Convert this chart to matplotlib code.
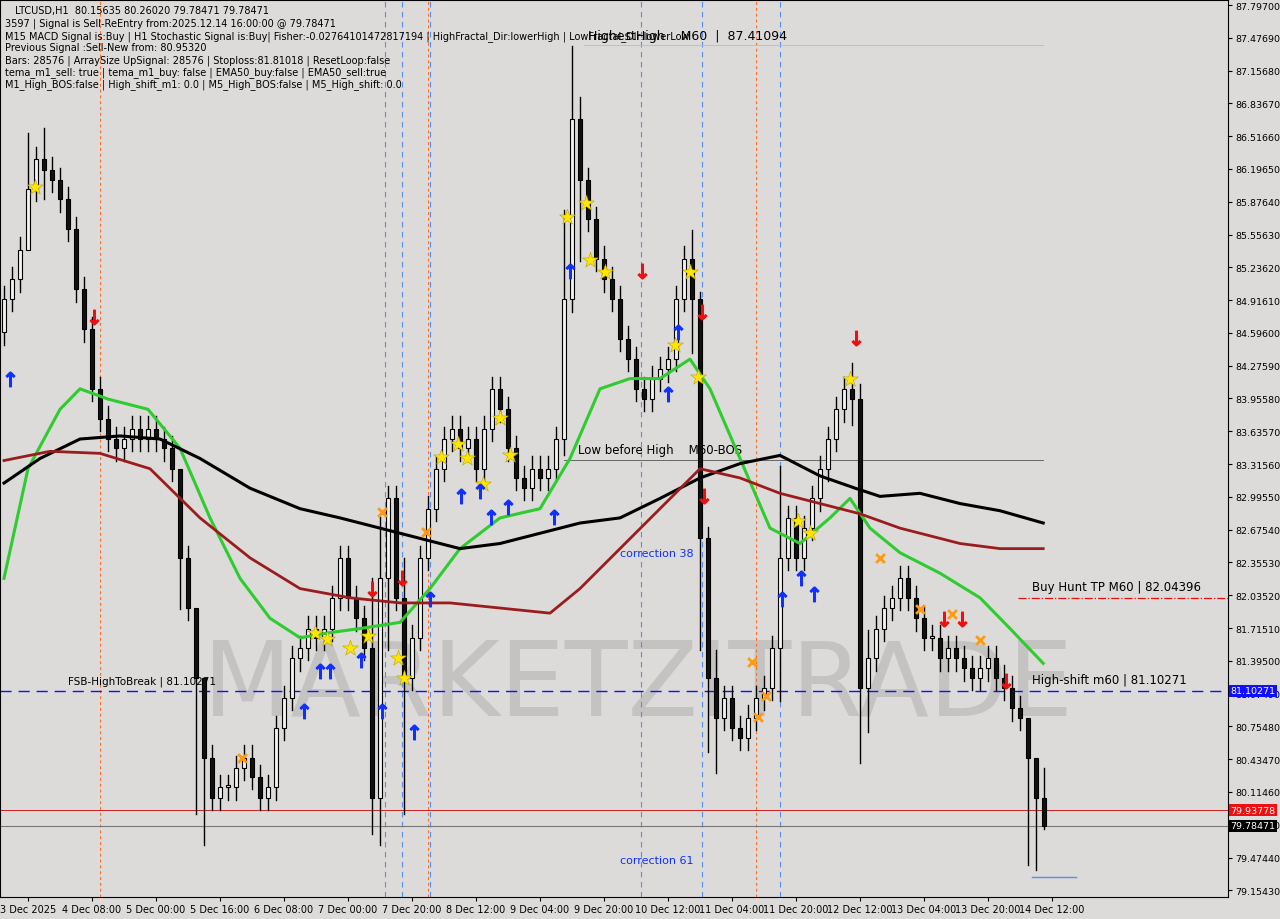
import numpy as np
import matplotlib
matplotlib.use("Agg")
import matplotlib.pyplot as plt

# closes, one candle per slot
closes = [84.93,85.12,85.41,86.00,86.29,86.19,86.09,85.90,85.61,85.02,84.63,84.05,83.76,83.56,83.47,83.56,
          83.66,83.56,83.66,83.56,83.47,83.27,82.40,81.91,81.23,80.45,80.06,80.16,80.16,80.35,80.45,80.26,
          80.06,80.16,80.74,81.03,81.42,81.52,81.71,81.62,81.71,82.01,82.40,82.01,81.81,81.52,80.06,82.20,
          82.98,82.01,81.23,81.62,82.40,82.88,83.27,83.56,83.66,83.47,83.56,83.27,83.66,84.05,83.85,83.47,
          83.18,83.08,83.27,83.18,83.27,83.56,84.93,86.68,86.09,85.71,85.32,85.12,84.93,84.54,84.34,84.05,
          83.95,84.15,84.24,84.34,84.93,85.32,84.93,82.59,81.23,80.84,81.03,80.74,80.64,80.84,81.03,81.13,
          81.52,82.40,82.79,82.40,82.69,82.98,83.27,83.56,83.85,84.05,83.95,81.13,81.42,81.71,81.91,82.01,
          82.20,82.01,81.81,81.62,81.62,81.42,81.52,81.42,81.32,81.23,81.32,81.42,81.23,81.13,80.93,80.84,
          80.45,80.06,79.78]
first_open = 84.60
# long wicks: slot -> (high, low)
wicks = {3: (86.55, 85.60), 5: (86.60, 85.90), 22: (83.10, 81.90), 24: (81.80, 79.90), 25: (80.90, 79.60),
         46: (82.20, 79.70), 47: (82.80, 79.60), 48: (83.10, 81.50), 50: (82.40, 79.90), 70: (85.80, 83.40),
         71: (87.40, 84.80), 72: (86.90, 85.30), 86: (85.60, 84.40), 87: (85.00, 81.50), 88: (82.70, 80.50),
         89: (81.50, 80.30), 97: (83.30, 81.00), 106: (84.30, 83.70), 107: (84.10, 80.40), 108: (81.70, 80.70),
         128: (80.50, 79.40), 129: (80.40, 79.35), 130: (80.35, 79.75)}

green_x = [0,3,7,9.5,13,18,22,25.75,29.5,33.25,37,40.75,44.5,49.5,53.25,57,62,67,70.75,74.5,78.25,82,85.75,88.25,92,95.75,99.5,103.25,105.75,108.25,112,117,122,125.75,129.9]
green_y = [82.20,83.27,83.85,84.05,83.95,83.85,83.47,82.79,82.20,81.81,81.62,81.67,81.71,81.77,82.10,82.49,82.79,82.88,83.37,84.05,84.15,84.15,84.34,84.05,83.37,82.69,82.54,82.79,82.98,82.69,82.45,82.25,82.01,81.71,81.37]
black_x = [0,4.5,9.5,14.5,19.5,24.5,30.75,37,42,47,52,57,62,67,72,77,82,87,92,97,102,106.4,109.5,114.5,119.5,124.5,129.9]
black_y = [83.13,83.37,83.56,83.59,83.56,83.37,83.08,82.88,82.79,82.69,82.59,82.49,82.54,82.64,82.74,82.79,82.98,83.18,83.32,83.40,83.20,83.08,83.00,83.03,82.93,82.86,82.74]
brown_x = [0,5.75,12,18.25,24.5,30.75,37,43.25,49.5,55.75,62,68.25,72,77,82,87,92,97,102,107,112,119.5,124.5,129.9]
brown_y = [83.35,83.44,83.42,83.27,82.79,82.40,82.10,82.01,81.96,81.96,81.91,81.86,82.10,82.49,82.88,83.27,83.18,83.03,82.93,82.83,82.69,82.54,82.49,82.49]

stars_x = [3.9,38.9,40.4,43.25,45.5,49.25,50,54.6,56.75,57.9,59.9,62,63.25,70.4,72.75,73.25,75.1,83.9,85.75,86.75,99.25,100.75,105.75]
stars_y = [86.02,81.67,81.61,81.52,81.64,81.42,81.23,83.38,83.51,83.37,83.12,83.77,83.40,85.73,85.86,85.31,85.19,84.48,85.19,84.17,82.76,82.64,84.15]
up_x = [0.75,37.5,39.5,40.75,44.6,47.25,51.25,53.25,57.1,59.5,60.9,63,68.75,70.75,83,84.25,97.25,99.6,101.25]
up_y = [84.15,80.90,81.30,81.30,81.40,80.90,80.70,82.00,83.00,83.05,82.80,82.90,82.80,85.20,84.00,84.60,82.00,82.20,82.05]
dn_x = [11.25,46,49.75,79.75,87.25,87.5,106.5,117.5,119.75,125.25]
dn_y = [84.75,82.10,82.20,85.20,84.80,83.00,84.55,81.80,81.80,81.20]
ox_x = [29.75,47.25,52.75,93.5,95.25,94.25,109.5,114.5,118.5,122]
ox_y = [80.45,82.85,82.65,81.38,81.05,80.85,82.40,81.90,81.85,81.60]

price_ticks = [87.79700 - 0.32010 * k for k in range(28)]
date_labels = ['3 Dec 2025','4 Dec 08:00','5 Dec 00:00','5 Dec 16:00','6 Dec 08:00','7 Dec 00:00','7 Dec 20:00',
               '8 Dec 12:00','9 Dec 04:00','9 Dec 20:00','10 Dec 12:00','11 Dec 04:00','11 Dec 20:00',
               '12 Dec 12:00','13 Dec 04:00','13 Dec 20:00','14 Dec 12:00']

info = ["LTCUSD,H1  80.15635 80.26020 79.78471 79.78471",
        "3597 | Signal is Sell-ReEntry from:2025.12.14 16:00:00 @ 79.78471",
        "M15 MACD Signal is:Buy | H1 Stochastic Signal is:Buy| Fisher:-0.02764101472817194 | HighFractal_Dir:lowerHigh | LowFractal_Dir:lowerLow",
        "Previous Signal :Sell-New from: 80.95320",
        "Bars: 28576 | ArraySize UpSignal: 28576 | Stoploss:81.81018 | ResetLoop:false",
        "tema_m1_sell: true | tema_m1_buy: false | EMA50_buy:false | EMA50_sell:true",
        "M1_High_BOS:false | High_shift_m1: 0.0 | M5_High_BOS:false | M5_High_shift: 0.0"]

fig = plt.figure(figsize=(12.8, 9.2), dpi=100)
fig.patch.set_facecolor('#dcdbd9')
ax = fig.add_axes([0.0, 22/920, 1228/1280, 897/920])
ax.set_facecolor('#dcdbd9')
ax.set_xlim(-0.5, 153)
ax.set_ylim(79.089, 87.846)

# watermark
ax.text(0.52, 0.235, 'MARKETZITRADE', transform=ax.transAxes, fontsize=74, color='#c4c3c1',
        ha='center', va='center', zorder=0)

# vertical dashed lines
for vx in [47.6, 49.75, 53.25, 79.6, 87.25, 97]:
    ax.axvline(vx, color='#5b8ee8', ls=(0, (5, 4)), lw=0.8, zorder=1)
for vx in [12, 53, 94]:
    ax.axvline(vx, color='#ff6a1a', ls=(0, (3, 3)), lw=0.7, zorder=1)

# levels
ax.axhline(81.10271, color='#1010ff', ls=(0, (8, 5)), lw=1.0, zorder=2)
ax.plot([126.75, 153], [82.01, 82.01], color='#e01010', ls='-.', lw=0.9)
ax.axhline(79.93778, color='#cc2020', lw=0.7)
ax.axhline(79.78471, color='#777777', lw=0.8)
ax.plot([70, 129.9], [83.36, 83.36], color='#555555', lw=0.6)
ax.plot([72.5, 129.9], [87.41, 87.41], color='#bbbbbb', lw=0.6)
ax.plot([128.5, 134], [79.28, 79.28], color='#5b8ee8', lw=1.0)

# candles
prev = first_open
for i, c in enumerate(closes):
    o = prev
    hi, lo = wicks.get(i, (max(o, c) + 0.12, min(o, c) - 0.12))
    ax.plot([i, i], [lo, hi], color='black', lw=1.0, zorder=3)
    up = c >= o
    ax.bar(i, abs(c - o) if abs(c - o) > 0.02 else 0.02, bottom=min(o, c), width=0.45,
           color='#f0f0f0' if up else '#111111', edgecolor='black', lw=0.8, zorder=4)
    prev = c

ax.plot(green_x, green_y, color='#2ecc2e', lw=2.2, zorder=5)
ax.plot(black_x, black_y, color='black', lw=2.2, zorder=5)
ax.plot(brown_x, brown_y, color='#9b1c1c', lw=2.0, zorder=5)

ax.scatter(stars_x, stars_y, marker='*', s=140, color='#ffe600', edgecolors='#b8a000', lw=0.4, zorder=6)
ax.scatter(up_x, up_y, marker=r'$\uparrow$', s=110, color='#1030ff', zorder=6)
ax.scatter(dn_x, dn_y, marker=r'$\downarrow$', s=110, color='#ee1010', zorder=6)
ax.scatter(ox_x, ox_y, marker='x', s=40, color='#ff9a10', lw=2, zorder=6)

# annotations
ax.text(8, 81.15, 'FSB-HighToBreak | 81.10271', fontsize=7.5, va='bottom')
ax.text(128.5, 81.15, 'High-shift m60 | 81.10271', fontsize=8.5, va='bottom')
ax.text(128.5, 82.06, 'Buy Hunt TP M60 | 82.04396', fontsize=8.5, va='bottom')
ax.text(71.8, 83.39, 'Low before High    M60-BOS', fontsize=8.5, va='bottom')
ax.text(73, 87.44, 'HighestHigh    M60  |  87.41094', fontsize=9, va='bottom')
ax.text(77, 82.40, 'correction 38', fontsize=8, color='#1030ff', va='bottom')
ax.text(77, 79.40, 'correction 61', fontsize=8, color='#1030ff', va='bottom')

for k, line in enumerate(info):
    ax.text(0.004 if k else 0.012, 0.994 - k * 0.0136, line, transform=ax.transAxes,
            fontsize=7, va='top')

ax.yaxis.tick_right()
ax.set_yticks(price_ticks)
ax.set_yticklabels(['%.5f' % p for p in price_ticks], fontsize=6.8)
ax.set_xticks([3 + 8 * k for k in range(len(date_labels))])
ax.set_xticklabels(date_labels, fontsize=7)
ax.tick_params(length=3, pad=2)

# price labels on the axis
for val, bg, fg in [(81.10271, '#1010ff', 'white'), (79.93778, '#ee1010', 'white'), (79.78471, 'black', 'white')]:
    ax.text(1.002, val, '%.5f' % val, transform=ax.get_yaxis_transform(), fontsize=6.8, va='center',
            color=fg, bbox=dict(boxstyle='square,pad=0.15', fc=bg, ec='none'))

fig.savefig('out.png', dpi=100, facecolor=fig.get_facecolor())
